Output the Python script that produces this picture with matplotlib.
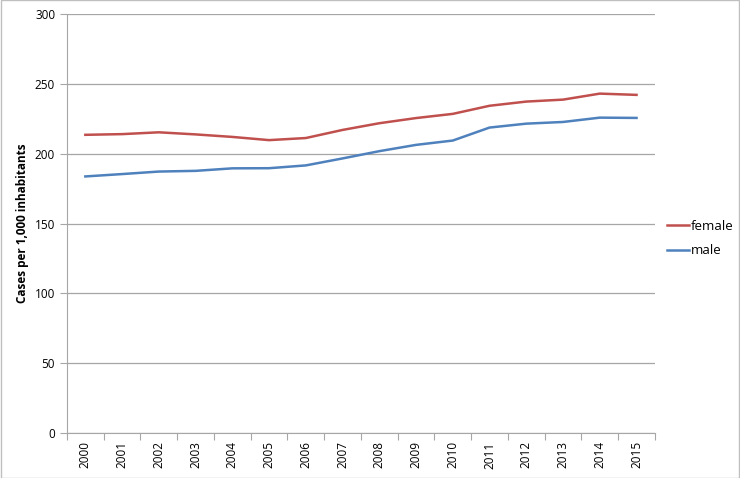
import matplotlib
matplotlib.use("Agg")
from matplotlib import pyplot as plt
import numpy as np

anos = ["2000", "2001", "2002", "2003", "2004", "2005", "2006", "2007",
        "2008", "2009", "2010", "2011", "2012", "2013", "2014", "2015"]
female = [213.5, 214.0, 215.3, 213.8, 212.0, 209.7, 211.2, 217.0,
          221.8, 225.5, 228.5, 234.3, 237.3, 238.7, 243.0, 242.1]
male = [183.7, 185.4, 187.2, 187.7, 189.5, 189.6, 191.6, 196.6,
        201.8, 206.3, 209.4, 218.7, 221.5, 222.7, 225.8, 225.6]

cor_f = "#C0504D"
cor_m = "#4F81BD"
cinza = "#A6A6A6"

plt.rcParams["font.family"] = ["Open Sans", "DejaVu Sans"]

fig = plt.figure(figsize=(7.4, 4.78), dpi=100)
ax = fig.add_axes([0.0905, 0.0941, 0.7945, 0.8766])

x = np.arange(len(anos))
ax.plot(x, female, color=cor_f, lw=1.8, label="female")
ax.plot(x, male, color=cor_m, lw=1.8, label="male")

ax.set_ylim(0, 300)
ax.set_yticks(range(0, 301, 50))
ax.set_xlim(-0.5, len(anos) - 0.5)
ax.set_xticks(np.arange(-0.5, len(anos), 1))
ax.set_xticklabels([])
ax.set_xticks(x, minor=True)
ax.set_xticklabels(anos, minor=True, rotation=90, fontsize=8.5)
ax.tick_params(axis="x", which="minor", length=0, pad=6)
ax.tick_params(axis="x", which="major", length=5, color=cinza)
ax.tick_params(axis="y", length=5, color=cinza, labelsize=8.5)

ax.grid(True, axis="y", color=cinza, lw=0.9)
ax.set_axisbelow(True)
for s in ["top", "right"]:
    ax.spines[s].set_visible(False)
for s in ["left", "bottom"]:
    ax.spines[s].set_color(cinza)

ax.set_ylabel("Cases per 1,000 inhabitants", fontsize=8.5, fontweight="bold")

ax.legend(loc="center left", bbox_to_anchor=(1.0, 0.464), frameon=False,
          fontsize=9.5, handlelength=1.7, handletextpad=0.1, labelspacing=0.85)

# moldura da figura
fig.patches.append(plt.Rectangle((0.001, 0.001), 0.998, 0.998, transform=fig.transFigure,
                                 fill=False, edgecolor="#BFBFBF", lw=1))

fig.savefig("out.png", dpi=100)
